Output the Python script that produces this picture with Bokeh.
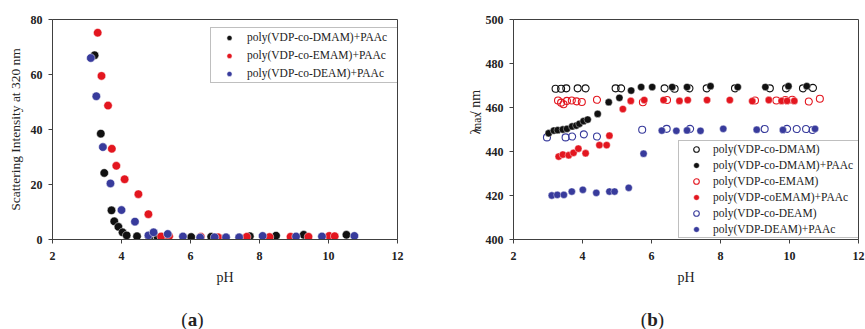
import math
from bokeh.plotting import figure
from bokeh.layouts import row, column
from bokeh.models import Range1d, Legend, LegendItem, FixedTicker
from bokeh.core.properties import value
from bokeh.embed import file_html
from bokeh.resources import INLINE

# ---------------- data: panel (a) ----------------
ph_dmam_paac_a = [3.22, 3.40, 3.50, 3.71, 3.79, 3.91, 4.03, 4.15, 4.45, 4.80, 5.05, 5.30, 6.02, 6.60, 7.72, 8.48, 9.28, 10.52]
si_dmam_paac_a = [67.0, 38.5, 24.2, 10.6, 6.6, 4.6, 2.6, 1.5, 1.2, 0.7, 0.8, 0.9, 0.9, 1.0, 1.2, 1.4, 1.7, 1.7]
ph_emam_paac_a = [3.31, 3.42, 3.61, 3.72, 3.85, 4.09, 4.49, 4.78, 5.15, 5.38, 6.30, 6.80, 7.63, 8.29, 8.90, 9.42, 10.02, 10.18]
si_emam_paac_a = [75.2, 59.5, 48.7, 33.0, 26.8, 21.9, 16.5, 9.2, 1.1, 1.2, 1.0, 0.8, 1.0, 0.9, 1.0, 1.0, 1.3, 1.2]
ph_deam_paac_a = [3.11, 3.27, 3.46, 3.68, 4.00, 4.39, 4.78, 4.93, 5.34, 5.78, 6.28, 6.70, 7.03, 7.41, 8.09, 9.06, 9.81, 10.75]
si_deam_paac_a = [66.0, 52.1, 33.6, 20.4, 10.7, 6.5, 1.5, 2.6, 2.0, 1.1, 0.7, 0.8, 0.8, 0.8, 1.3, 1.1, 1.1, 1.3]

# ---------------- data: panel (b) ----------------
ph_dmam = [3.22, 3.38, 3.53, 3.86, 4.09, 4.96, 5.12, 6.38, 6.67, 7.10, 7.60, 8.42, 9.43, 9.90, 10.39, 10.68]
lm_dmam = [468.5, 468.5, 468.7, 468.7, 468.7, 468.7, 468.7, 468.7, 468.5, 468.7, 468.7, 468.7, 468.7, 468.7, 468.7, 468.9]
ph_dmam_paac = [3.02, 3.17, 3.28, 3.43, 3.55, 3.70, 3.82, 3.91, 4.03, 4.15, 4.44, 4.76, 5.07, 5.41, 5.70, 6.02, 6.60, 7.03, 7.71, 8.50, 9.30, 9.97, 10.50]
lm_dmam_paac = [448.3, 449.5, 449.7, 450.0, 450.3, 451.4, 451.8, 452.6, 453.8, 454.5, 457.1, 462.4, 464.4, 467.7, 469.3, 469.3, 469.3, 469.3, 469.7, 469.3, 469.3, 469.7, 469.7]
ph_emam = [3.29, 3.38, 3.45, 3.55, 3.69, 3.83, 3.98, 4.42, 5.75, 6.45, 9.00, 9.62, 9.88, 10.08, 10.56, 10.88]
lm_emam = [463.2, 462.2, 461.5, 463.0, 463.2, 462.8, 462.5, 463.5, 462.4, 463.4, 463.2, 463.2, 463.4, 463.5, 462.7, 464.0]
ph_emam_paac = [3.31, 3.43, 3.60, 3.74, 3.88, 4.09, 4.49, 4.70, 4.78, 5.17, 5.40, 5.79, 6.35, 6.81, 7.05, 7.61, 8.27, 8.92, 9.40, 9.77, 9.93, 10.14]
lm_emam_paac = [437.7, 438.6, 438.3, 439.4, 441.3, 439.2, 442.9, 442.9, 447.2, 459.3, 463.0, 463.4, 463.4, 463.0, 463.4, 463.4, 463.4, 462.9, 463.4, 463.0, 463.0, 463.0]
ph_deam = [2.97, 3.51, 3.70, 4.04, 4.42, 5.73, 6.44, 7.12, 9.28, 9.93, 10.21, 10.48, 10.67]
lm_deam = [446.4, 446.4, 446.8, 447.8, 446.8, 449.9, 450.3, 450.3, 450.2, 450.3, 450.2, 450.2, 449.8]
ph_deam_paac = [3.11, 3.27, 3.46, 3.69, 4.01, 4.40, 4.78, 4.93, 5.34, 5.77, 6.30, 6.72, 7.03, 7.42, 8.08, 9.05, 9.81, 10.74]
lm_deam_paac = [420.0, 420.3, 420.3, 421.8, 422.6, 421.2, 421.8, 421.8, 423.5, 439.0, 449.5, 449.4, 449.6, 449.4, 450.3, 449.9, 449.8, 450.3]

x_ticks = [2, 4, 6, 8, 10, 12]
y_ticks_a = [0, 20, 40, 60, 80]
y_ticks_b = [400, 420, 440, 460, 480, 500]

labels_a = ["poly(VDP-co-DMAM)+PAAc", "poly(VDP-co-EMAM)+PAAc", "poly(VDP-co-DEAM)+PAAc"]
labels_b = ["poly(VDP-co-DMAM)", "poly(VDP-co-DMAM)+PAAc", "poly(VDP-co-EMAM)",
            "poly(VDP-coEMAM)+PAAc", "poly(VDP-co-DEAM)", "poly(VDP-DEAM)+PAAc"]

BLACK = "#111111"
RED = "#e3161f"
BLUE = "#383b9c"
AXIS = "#404040"
TXT = "#222222"
SERIF = "Liberation Serif"


def style(p):
    p.outline_line_color = AXIS
    p.outline_line_width = 1
    p.grid.visible = False
    p.background_fill_color = "white"
    p.border_fill_color = "white"
    for ax in (p.xaxis[0], p.yaxis[0]):
        ax.axis_line_color = AXIS
        ax.major_tick_line_color = AXIS
        ax.major_tick_in = 0
        ax.major_tick_out = 4
        ax.minor_tick_line_color = None
        ax.major_label_text_font = SERIF
        ax.major_label_text_font_style = "bold"
        ax.major_label_text_font_size = "12px"
        ax.major_label_text_color = TXT
        ax.axis_label_text_font = SERIF
        ax.axis_label_text_font_style = "normal"
        ax.axis_label_text_font_size = "14px"
        ax.axis_label_text_color = TXT
    p.xaxis.major_label_standoff = 8
    p.xaxis.axis_label_standoff = 7
    p.yaxis.major_label_standoff = 6
    p.yaxis.axis_label_standoff = 6


def blank(w, h, xr, yr):
    q = figure(width=w, height=h, x_range=Range1d(*xr), y_range=Range1d(*yr),
               x_axis_location=None, y_axis_location=None, output_backend="svg",
               toolbar_location=None, min_border=0)
    q.grid.visible = False
    q.outline_line_color = None
    q.background_fill_color = "white"
    q.border_fill_color = "white"
    return q


# ---------------- panel (a) ----------------
p1 = figure(width=440, height=300, x_range=Range1d(2, 12), y_range=Range1d(0, 80),
            output_backend="svg", toolbar_location=None,
            min_border_left=52, min_border_right=43, min_border_top=16, min_border_bottom=60)
style(p1)
p1.xaxis.ticker = FixedTicker(ticks=x_ticks)
p1.yaxis.ticker = FixedTicker(ticks=y_ticks_a)
p1.xaxis.axis_label = "pH"
p1.yaxis.axis_label = "Scattering Intensity at 320 nm"
p1.yaxis.axis_label_text_font_size = "13.5px"
p1.yaxis.axis_label_standoff = 5

ra1 = p1.scatter(ph_dmam_paac_a, si_dmam_paac_a, size=8.5, fill_color=BLACK, line_color="white", line_width=0.5)
ra2 = p1.scatter(ph_emam_paac_a, si_emam_paac_a, size=8.5, fill_color=RED, line_color="white", line_width=0.5)
ra3 = p1.scatter(ph_deam_paac_a, si_deam_paac_a, size=8.5, fill_color=BLUE, line_color="white", line_width=0.5)

leg1 = Legend(items=[LegendItem(label=labels_a[0], renderers=[ra1]),
                     LegendItem(label=labels_a[1], renderers=[ra2]),
                     LegendItem(label=labels_a[2], renderers=[ra3])],
              location=(158, 156), margin=0, padding=0, spacing=0,
              glyph_width=36, glyph_height=13, label_standoff=-13, label_width=154, label_height=18,
              label_text_font=SERIF, label_text_font_size="11.5px", label_text_color=TXT,
              border_line_color="#7f7f7f", border_line_width=1, background_fill_alpha=1)
p1.add_layout(leg1)

# ---------------- y title strip for panel (b): "λmax / nm", read bottom to top ----------------
plab = blank(42, 300, (0, 42), (0, 300))
plab.text(x=[34.5], y=[153], text=["λ"], angle=math.pi / 2, text_font=value(SERIF),
          text_font_size="15px", text_align="right", text_baseline="alphabetic", text_color=TXT)
plab.text(x=[36.0], y=[174], text=["max"], angle=math.pi / 2, text_font=value(SERIF),
          text_font_size="11.5px", text_align="right", text_baseline="alphabetic", text_color=TXT)
plab.text(x=[34.5], y=[204], text=["/ nm"], angle=math.pi / 2, text_font=value(SERIF),
          text_font_size="14px", text_align="right", text_baseline="alphabetic", text_color=TXT)

# ---------------- panel (b) ----------------
p2 = figure(width=383, height=300, x_range=Range1d(2, 12), y_range=Range1d(400, 500),
            output_backend="svg", toolbar_location=None,
            min_border_left=31, min_border_right=7, min_border_top=19, min_border_bottom=61)
style(p2)
p2.xaxis.ticker = FixedTicker(ticks=x_ticks)
p2.yaxis.ticker = FixedTicker(ticks=y_ticks_b)
p2.xaxis.axis_label = "pH"

rb1 = p2.scatter(ph_dmam, lm_dmam, size=7, fill_color=None, line_color=BLACK, line_width=1.1)
rb3 = p2.scatter(ph_emam, lm_emam, size=7, fill_color=None, line_color=RED, line_width=1.1)
rb5 = p2.scatter(ph_deam, lm_deam, size=7, fill_color=None, line_color=BLUE, line_width=1.1)
rb2 = p2.scatter(ph_dmam_paac, lm_dmam_paac, size=7.3, fill_color=BLACK, line_color="white", line_width=0.4)
rb4 = p2.scatter(ph_emam_paac, lm_emam_paac, size=7.3, fill_color=RED, line_color="white", line_width=0.4)
rb6 = p2.scatter(ph_deam_paac, lm_deam_paac, size=7.3, fill_color=BLUE, line_color="white", line_width=0.4)

leg2 = Legend(items=[LegendItem(label=labels_b[0], renderers=[rb1]),
                     LegendItem(label=labels_b[1], renderers=[rb2]),
                     LegendItem(label=labels_b[2], renderers=[rb3]),
                     LegendItem(label=labels_b[3], renderers=[rb4]),
                     LegendItem(label=labels_b[4], renderers=[rb5]),
                     LegendItem(label=labels_b[5], renderers=[rb6])],
              location=(165, 1), margin=0, padding=0, spacing=0,
              glyph_width=34, glyph_height=14, label_standoff=-10, label_width=152, label_height=16,
              label_text_font=SERIF, label_text_font_size="11.5px", label_text_color=TXT,
              border_line_color="#7f7f7f", border_line_width=1, background_fill_alpha=1)
p2.add_layout(leg2)

# ---------------- panel captions (a), (b) ----------------
pa = blank(440, 29, (0, 440), (0, 29))
pb = blank(425, 29, (0, 425), (0, 29))
for q, cx, ch, half in ((pa, 192, "a", 4.8), (pb, 212, "b", 5.3)):
    q.text(x=[cx - half], y=[10], text=["("], text_font=value(SERIF), text_font_size="19px",
           text_align="right", text_baseline="middle", text_color=TXT)
    q.text(x=[cx], y=[10], text=[ch], text_font=value(SERIF), text_font_size="19px",
           text_font_style="bold", text_align="center", text_baseline="middle", text_color=TXT)
    q.text(x=[cx + half], y=[10], text=[")"], text_font=value(SERIF), text_font_size="19px",
           text_align="left", text_baseline="middle", text_color=TXT)

layout = column(row(p1, plab, p2), row(pa, pb))
open("out.html", "w").write(file_html(layout, INLINE))
